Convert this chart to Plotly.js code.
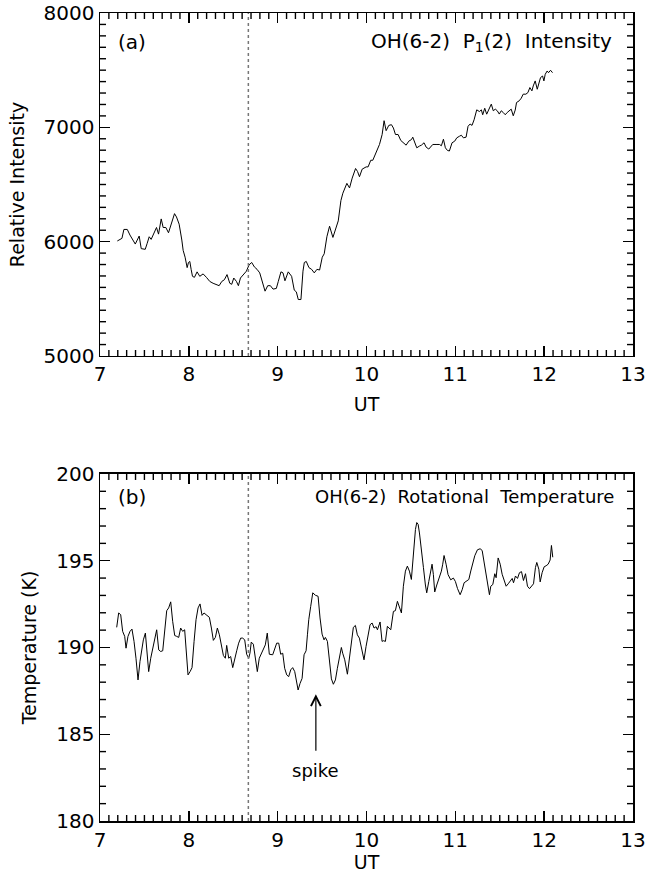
<!DOCTYPE html>
<html><head><meta charset="utf-8">
<script src="https://cdn.plot.ly/plotly-3.0.1.min.js"></script>
<style>html,body{margin:0;padding:0;background:#fff}#chart{width:647px;height:875px}</style>
</head><body><div id="chart"></div>
<script>
// ---- Data ----
const utIntensity = [7.195,7.225,7.247,7.269,7.307,7.337,7.366,7.397,7.419,7.441,7.464,7.509,7.531,7.554,7.576,7.606,7.636,7.659,7.689,7.711,7.741,7.771,7.801,7.839,7.861,7.891,7.921,7.936,7.958,7.981,7.996,8.011,8.026,8.041,8.063,8.093,8.123,8.161,8.198,8.236,8.273,8.311,8.341,8.371,8.400,8.430,8.461,8.483,8.506,8.536,8.558,8.581,8.618,8.648,8.678,8.708,8.738,8.768,8.798,8.828,8.858,8.888,8.918,8.948,8.985,
9.007,9.037,9.060,9.082,9.119,9.157,9.187,9.210,9.232,9.262,9.285,9.300,9.322,9.352,9.382,9.412,9.442,9.472,9.502,9.524,9.554,9.584,9.622,9.652,9.682,9.712,9.734,9.779,9.809,9.839,9.877,9.899,9.921,9.951,9.996,10.018,10.048,10.071,10.108,10.146,10.176,10.198,10.221,10.251,10.281,10.303,10.326,10.356,10.386,10.416,10.446,10.476,10.506,10.521,10.543,10.566,10.596,10.618,10.648,10.671,10.701,10.746,10.783,10.821,10.843,10.866,10.888,10.911,10.933,10.963,10.993,11.016,11.046,11.068,11.091,11.121,11.143,11.166,11.188,11.211,11.241,11.271,11.293,11.308,11.331,11.353,
11.405,11.427,11.450,11.472,11.495,11.517,11.539,11.562,11.584,11.607,11.629,11.652,11.674,11.689,11.719,11.742,11.764,11.794,11.817,11.839,11.862,11.877,11.899,11.922,11.937,11.959,11.982,11.997,12.012,12.034,12.049,12.072,12.094];
const intensity = [6006,6020,6029,6107,6107,6058,6014,5979,6014,6049,5939,5933,5985,6043,6020,6072,6124,6066,6199,6124,6124,6078,6153,6245,6216,6153,6014,5924,5864,5773,5818,5827,5758,5697,5688,5736,5697,5718,5688,5652,5636,5627,5615,5652,5667,5712,5636,5627,5682,5652,5615,5682,5712,5742,5797,5818,5779,5758,5727,5652,5567,5615,5615,5585,5591,
5652,5736,5727,5658,5736,5697,5576,5561,5494,5494,5742,5818,5827,5773,5758,5727,5758,5752,5864,5894,6043,6135,6037,6107,6182,6360,6424,6510,6470,6556,6640,6614,6568,6634,6654,6654,6712,6712,6787,6850,6937,7058,6971,7017,7023,6994,6937,6937,6885,6867,6844,6879,6893,6914,6865,6821,6836,6844,6865,6827,6810,6850,6850,6850,6839,6896,6821,6798,6793,6865,6879,6908,6922,6931,6908,6914,7009,7029,7017,7066,7153,7138,7153,7110,7167,7115,
7203,7145,7159,7145,7116,7145,7130,7110,7130,7145,7159,7101,7151,7217,7232,7255,7290,7290,7304,7348,7319,7362,7406,7333,7377,7435,7449,7406,7464,7493,7478,7499,7478];

const utTemperature = [7.188,7.210,7.233,7.255,7.278,7.293,7.315,7.338,7.360,7.383,7.405,7.428,7.450,7.473,7.488,7.511,7.526,7.548,7.571,7.593,7.616,7.638,7.661,7.683,7.706,7.728,7.751,7.773,7.796,7.818,7.841,7.863,7.886,7.908,7.931,7.953,7.976,7.991,8.014,8.036,8.059,8.081,8.104,8.126,8.149,8.171,8.194,8.216,8.231,8.254,8.276,8.299,8.321,8.344,8.366,8.389,8.411,8.426,8.449,8.471,8.494,8.516,8.539,8.561,8.584,8.606,8.629,8.651,8.674,8.688,8.703,8.726,8.748,8.771,8.793,8.816,8.838,8.861,8.883,8.906,
8.944,8.967,8.989,9.012,9.034,9.057,9.079,9.102,9.124,9.147,9.169,9.192,9.215,9.230,9.252,9.275,9.297,9.320,9.335,9.350,9.372,9.395,9.425,9.455,9.477,9.500,9.522,9.537,9.560,9.582,9.605,9.627,9.650,9.672,9.695,9.717,9.732,9.755,9.785,9.807,9.830,9.852,9.875,9.897,9.920,9.950,9.972,9.995,10.017,10.040,10.063,10.085,10.108,10.123,10.153,10.175,10.190,10.213,10.235,10.250,10.273,10.303,10.325,10.348,10.370,10.393,10.415,10.438,10.460,10.483,10.505,
10.521,10.536,10.551,10.566,10.581,10.596,10.611,10.641,10.663,10.678,10.701,10.723,10.738,10.753,10.768,10.791,10.821,10.843,10.858,10.873,10.896,10.918,10.948,10.978,11.001,11.024,11.054,
11.077,11.099,11.129,11.152,11.174,11.197,11.219,11.249,11.279,11.302,11.324,11.347,11.369,11.384,11.399,11.422,11.444,11.459,11.482,11.505,11.527,11.550,11.572,11.595,11.617,11.640,11.655,11.677,11.700,11.722,11.745,11.767,11.790,11.812,11.835,11.857,11.880,11.902,11.917,11.940,11.955,11.977,12.000,12.022,12.045,12.067,12.082,12.097];
const temperature = [191.16,191.99,191.89,190.93,190.64,189.96,190.64,190.93,191.06,190.35,189.38,188.13,189.19,190.15,190.44,190.83,189.96,188.61,189.38,189.96,190.54,191.02,189.86,189.77,189.81,191.12,192.12,192.28,192.63,191.51,190.69,190.64,190.58,191.12,190.93,191.02,189.58,188.42,188.61,188.84,190.35,191.60,192.28,192.51,191.85,191.99,191.89,191.80,191.74,191.12,190.41,190.58,191.12,190.73,190.12,189.54,189.38,190.12,189.38,189.48,188.84,189.42,189.81,190.25,190.54,190.54,190.44,189.61,189.38,189.67,190.31,190.19,189.38,188.61,189.38,189.67,189.86,190.15,190.83,189.61,
189.58,189.92,190.25,190.25,189.61,189.67,188.80,188.42,188.32,188.71,188.84,188.61,188.03,187.55,187.93,188.22,189.58,189.81,190.73,191.60,192.37,193.15,193.01,192.95,191.70,190.77,190.44,190.58,190.35,189.29,188.19,187.88,188.13,188.80,189.38,190.00,189.67,189.29,188.46,189.38,190.35,191.16,191.27,190.73,190.54,189.86,189.29,190.06,190.73,191.31,191.41,191.12,191.20,191.02,191.47,190.35,190.39,190.35,191.22,191.12,191.02,192.08,192.12,192.66,192.37,191.99,193.53,194.40,194.69,194.40,193.92,
194.98,196.0,196.8,197.2,197.1,196.6,195.8,194.6,193.6,193.15,193.8,194.4,194.8,194.2,193.2,193.6,194.0,194.4,194.8,195.3,194.8,194.2,193.9,194.0,193.8,193.4,193.04,
193.33,193.73,193.86,193.92,194.41,194.80,195.29,195.63,195.69,195.59,194.90,194.02,193.43,193.04,193.53,193.63,194.25,194.02,195.16,194.80,194.22,193.82,193.53,193.67,193.86,193.98,193.73,194.12,193.98,194.31,194.37,193.86,194.25,193.53,193.39,193.53,193.67,194.61,194.90,194.51,193.78,194.31,194.65,194.71,194.80,195.04,195.88,195.20];

const markerUT = 8.67;             // dotted vertical reference line
const spikeUT = 9.43;              // arrow position
const spikeArrowTip = 187.3;       // arrow head (K)
const spikeLabelY = 182.9;         // "spike" label / arrow tail (K)

const xTicks = [7, 8, 9, 10, 11, 12, 13];
const yTicksA = [5000, 6000, 7000, 8000];
const yTicksB = [180, 185, 190, 195, 200];
const xMinorPerMajor = 10, yMinorPerMajorA = 10, yMinorPerMajorB = 5;

const panelLabelA = '(a)';
const panelTitleA = 'OH(6-2)  P<sub>1</sub>(2)  Intensity';
const panelLabelB = '(b)';
const panelTitleB = 'OH(6-2)  Rotational  Temperature';

// ---- Styling ----
const FONT = 'DejaVu Sans, Liberation Sans, sans-serif';
const tickFont = {family: FONT, size: 20, color: '#000'};
const titleFont = {family: FONT, size: 19, color: '#000'};
const MAJOR_LEN = 10, MINOR_LEN = 6;

function xAxis(anchor, standoff) {
  return {
    anchor: anchor, range: [xTicks[0], xTicks[xTicks.length - 1]],
    tickmode: 'linear', tick0: xTicks[0], dtick: xTicks[1] - xTicks[0],
    ticks: 'inside', ticklen: MAJOR_LEN, tickwidth: 1.4, tickcolor: '#000',
    showline: true, linecolor: '#000', linewidth: 1.5, mirror: 'ticks',
    showgrid: false, zeroline: false, tickfont: tickFont, ticklabeloverflow: 'allow',
    title: {text: 'UT', font: titleFont, standoff: standoff}
  };
}
function yAxis(anchor, domain, vals, title) {
  return {
    anchor: anchor, domain: domain, range: [vals[0], vals[vals.length - 1]],
    tickmode: 'linear', tick0: vals[0], dtick: vals[1] - vals[0],
    ticks: 'inside', ticklen: MAJOR_LEN, tickwidth: 1.4, tickcolor: '#000',
    showline: true, linecolor: '#000', linewidth: 1.5, mirror: 'ticks',
    showgrid: false, zeroline: false, tickfont: tickFont, ticklabeloverflow: 'allow',
    title: {text: title, font: titleFont, standoff: 14}
  };
}

// minor tick values between the major ticks
function minorValues(major, perMajor) {
  const out = [];
  const step = (major[1] - major[0]) / perMajor;
  const n = Math.round((major[major.length - 1] - major[0]) / step);
  for (let i = 1; i < n; i++) if (i % perMajor !== 0) out.push(major[0] + i * step);
  return out;
}
const tickLine = {color: '#000', width: 1.4};
function xMinorShapes(xr, yr, vals) {
  const s = [];
  vals.forEach(v => {
    s.push({type: 'line', xref: xr, yref: yr + ' domain', ysizemode: 'pixel', yanchor: 0,
            x0: v, x1: v, y0: 0, y1: MINOR_LEN, line: tickLine});
    s.push({type: 'line', xref: xr, yref: yr + ' domain', ysizemode: 'pixel', yanchor: 1,
            x0: v, x1: v, y0: 0, y1: -MINOR_LEN, line: tickLine});
  });
  return s;
}
function yMinorShapes(xr, yr, vals) {
  const s = [];
  vals.forEach(v => {
    s.push({type: 'line', xref: xr + ' domain', yref: yr, xsizemode: 'pixel', xanchor: 0,
            y0: v, y1: v, x0: 0, x1: MINOR_LEN, line: tickLine});
    s.push({type: 'line', xref: xr + ' domain', yref: yr, xsizemode: 'pixel', xanchor: 1,
            y0: v, y1: v, x0: 0, x1: -MINOR_LEN, line: tickLine});
  });
  return s;
}

const traces = [
  {x: utIntensity, y: intensity, xaxis: 'x', yaxis: 'y', type: 'scatter', mode: 'lines',
   line: {color: '#000', width: 1}, hoverinfo: 'skip'},
  {x: utTemperature, y: temperature, xaxis: 'x2', yaxis: 'y2', type: 'scatter', mode: 'lines',
   line: {color: '#000', width: 1}, hoverinfo: 'skip'}
];

const xMinor = minorValues(xTicks, xMinorPerMajor);
const shapes = [
  {type: 'line', xref: 'x', yref: 'y domain', x0: markerUT, x1: markerUT, y0: 0, y1: 1,
   line: {color: '#777', width: 1.5, dash: 'dot'}},
  {type: 'line', xref: 'x2', yref: 'y2 domain', x0: markerUT, x1: markerUT, y0: 0, y1: 1,
   line: {color: '#777', width: 1.5, dash: 'dot'}}
].concat(
  xMinorShapes('x', 'y', xMinor),
  xMinorShapes('x2', 'y2', xMinor),
  yMinorShapes('x', 'y', minorValues(yTicksA, yMinorPerMajorA)),
  yMinorShapes('x2', 'y2', minorValues(yTicksB, yMinorPerMajorB))
);

const annFontA = {family: FONT, size: 20, color: '#000'};
const annFontB = {family: FONT, size: 18, color: '#000'};
const layout = {
  width: 647, height: 875,
  margin: {l: 100, r: 14, t: 13, b: 54},
  paper_bgcolor: '#fff', plot_bgcolor: '#fff',
  showlegend: false,
  xaxis: xAxis('y', 12),
  yaxis: yAxis('x', [0.5755, 1], yTicksA, 'Relative Intensity'),
  xaxis2: xAxis('y2', 1),
  yaxis2: yAxis('x2', [0, 0.4295], yTicksB, 'Temperature (K)'),
  shapes: shapes,
  annotations: [
    {xref: 'x domain', yref: 'y domain', x: 0.03, y: 0.915, xanchor: 'left', yanchor: 'middle',
     text: panelLabelA, showarrow: false, font: annFontA},
    {xref: 'x domain', yref: 'y domain', x: 0.965, y: 0.915, xanchor: 'right', yanchor: 'middle',
     text: panelTitleA, showarrow: false, font: annFontA},
    {xref: 'x2 domain', yref: 'y2 domain', x: 0.03, y: 0.935, xanchor: 'left', yanchor: 'middle',
     text: panelLabelB, showarrow: false, font: annFontA},
    {xref: 'x2 domain', yref: 'y2 domain', x: 0.968, y: 0.935, xanchor: 'right', yanchor: 'middle',
     text: panelTitleB, showarrow: false, font: annFontB},
    {xref: 'x2', yref: 'y2', x: spikeUT, y: spikeArrowTip, axref: 'x2', ayref: 'y2',
     ax: spikeUT, ay: spikeLabelY, text: 'spike', font: annFontB, showarrow: true,
     arrowhead: 5, arrowsize: 1.6, arrowwidth: 1.2, arrowcolor: '#000', startstandoff: 8}
  ]
};

Plotly.newPlot('chart', traces, layout, {staticPlot: true, displayModeBar: false});
</script>
</body></html>
